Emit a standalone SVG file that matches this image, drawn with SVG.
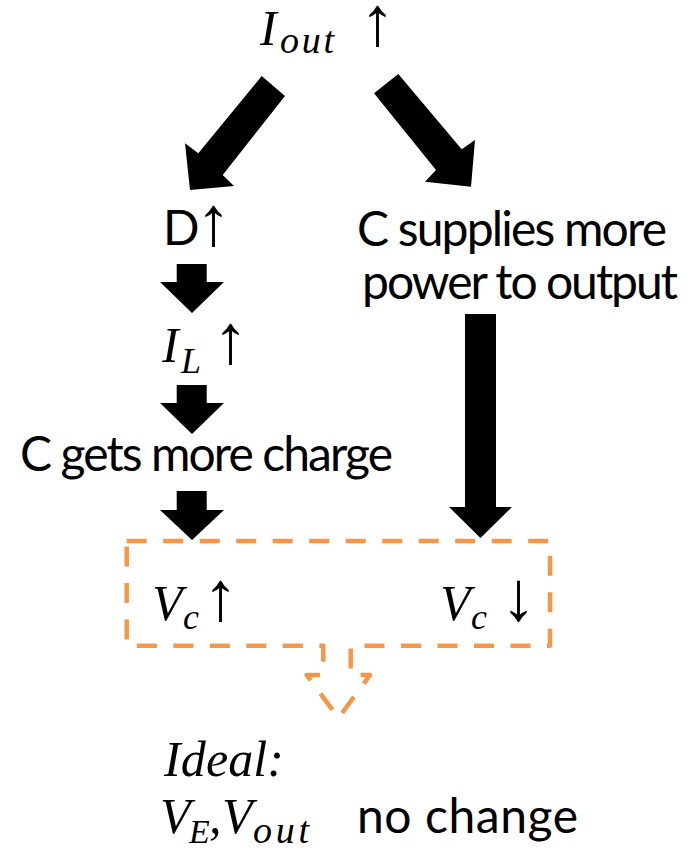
<svg xmlns="http://www.w3.org/2000/svg" width="698" height="851" viewBox="0 0 698 851">
<style>
.t{font-family:Lato,"Liberation Sans",sans-serif;font-size:48px;fill:#000}
.m{font-family:"Liberation Serif",serif;font-style:italic;fill:#000}
.a{font-family:"Liberation Serif",serif;font-size:70px;fill:#000}
.arr{fill:#000}
.box{fill:none;stroke:#F79646;stroke-width:4.5;stroke-dasharray:20 16.5;stroke-linejoin:round}
</style>
<rect width="698" height="851" fill="#fff"/>
<g id="connectors">
<polygon class="arr" points="261.7,76 285,96 222.7,175 234,186 190,190 185,143.3 198.3,153.3"/>
<polygon class="arr" points="374,93.3 398.3,74 461.7,149.3 475,140 471,186.7 425,181.7 436,170"/>
<polygon class="arr" points="176.7,264 206.7,264 206.7,282 224,282 192,313 160,282 176.7,282"/>
<polygon class="arr" points="176.7,385 206.7,385 206.7,403 224,403 192,434 160,403 176.7,403"/>
<polygon class="arr" points="176.7,491 206.7,491 206.7,510 224,510 192,540 160,510 176.7,510"/>
<polygon class="arr" points="465,314 496,314 496,507 512,507 480.5,538 449,507 465,507"/>
</g>
<g id="node-iout">
<text class="m" x="260" y="45" font-size="50">I</text>
<text class="m" x="280" y="53" font-size="38" textLength="54">out</text>
<text class="a" x="360" y="45">↑</text>
</g>
<g id="node-d">
<text class="t" x="163" y="245">D</text>
<text class="a" x="196" y="245">↑</text>
</g>
<g id="node-csupplies">
<text class="t" x="357" y="246" textLength="310">C supplies more</text>
<text class="t" x="362" y="299" textLength="316">power to output</text>
</g>
<g id="node-il">
<text class="m" x="162" y="362" font-size="50">I</text>
<text class="m" x="181" y="373" font-size="36">L</text>
<text class="a" x="213" y="363">↑</text>
</g>
<g id="node-cgets">
<text class="t" x="20" y="471" textLength="373">C gets more charge</text>
</g>
<g id="node-vc">
<path class="box" d="M126.7,541 L550,541 L550,645.7 L350.7,645.7 L350.7,675 L370,675 L338.5,718 L306.7,675 L323.3,675 L323.3,645.7 L126.7,645.7 Z"/>
<text class="m" x="152" y="620" font-size="50">V</text>
<text class="m" x="183" y="629" font-size="36">c</text>
<text class="a" x="203" y="620">↑</text>
<text class="m" x="440" y="620" font-size="50">V</text>
<text class="m" x="471" y="629" font-size="36">c</text>
<text class="a" x="501" y="620">↓</text>
</g>
<g id="node-ideal">
<text class="m" x="164" y="776" font-size="50" textLength="120">Ideal:</text>
<text class="m" x="160" y="833" font-size="50">V</text>
<text class="m" x="189" y="843" font-size="34">E</text>
<text class="m" x="209" y="833" font-size="50">,</text>
<text class="m" x="222" y="833" font-size="50">V</text>
<text class="m" x="253" y="843" font-size="38" textLength="56">out</text>
<text class="t" x="357" y="833" textLength="221">no change</text>
</g>
</svg>
